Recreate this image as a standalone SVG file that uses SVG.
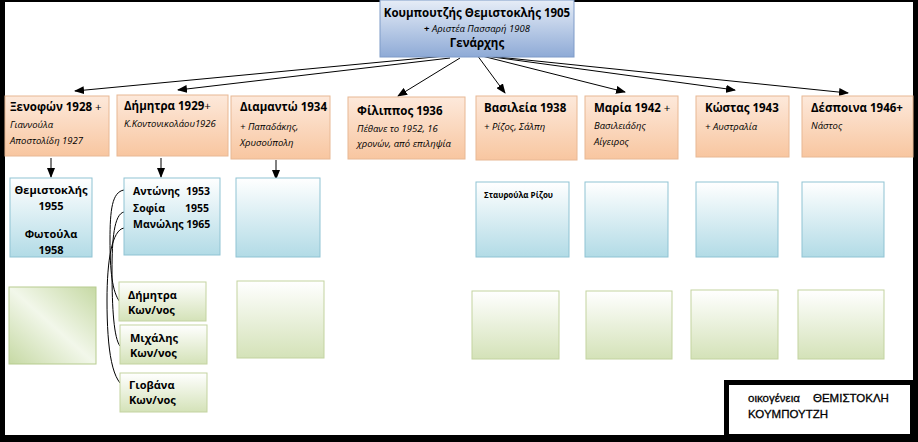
<svg xmlns="http://www.w3.org/2000/svg" width="918" height="442" viewBox="0 0 918 442">
<defs>
<linearGradient id="gr" x1="0" y1="0" x2="0" y2="1"><stop offset="0" stop-color="#e6edf7"/><stop offset="1" stop-color="#8eaad6"/></linearGradient>
<linearGradient id="go" x1="0" y1="0" x2="0" y2="1"><stop offset="0" stop-color="#fde9db"/><stop offset="1" stop-color="#f8c6a0"/></linearGradient>
<linearGradient id="gb" x1="0" y1="0" x2="0" y2="1"><stop offset="0" stop-color="#ffffff"/><stop offset="1" stop-color="#b2dbe6"/></linearGradient>
<linearGradient id="gg" x1="0" y1="0" x2="0" y2="1"><stop offset="0" stop-color="#ffffff"/><stop offset="1" stop-color="#d4e2b8"/></linearGradient>
<linearGradient id="gg2" x1="0" y1="1" x2="1" y2="0"><stop offset="0" stop-color="#c6d9a4"/><stop offset="0.5" stop-color="#f2f7ea"/><stop offset="1" stop-color="#c6d9a4"/></linearGradient>
<marker id="ah" markerWidth="10" markerHeight="8" refX="9" refY="4" orient="auto" markerUnits="userSpaceOnUse"><path d="M0,0 L10,4 L0,8 Z" fill="#000"/></marker>
</defs>
<style>
text{font-family:"Open Sans","Liberation Sans",sans-serif;fill:#000}
.b{font-weight:bold;font-size:11.500px}
.s{font-weight:bold;font-size:11px}
.k{font-weight:bold;font-size:10.500px}
.i{font-style:italic;font-size:9.500px}
.o{fill:url(#go);stroke:#e8b894;stroke-width:1}
.bl{fill:url(#gb);stroke:#8fc3d3;stroke-width:1}
.g{fill:url(#gg);stroke:#c3d3a0;stroke-width:1}
.c{fill:none;stroke:#000;stroke-width:1}
.lg{font-family:"Liberation Sans",Arial,sans-serif;font-size:11.500px;stroke:#000;stroke-width:0.3}
</style>
<rect x="0" y="0" width="918" height="442" fill="#fff"/>
<g id="frame" fill="#000">
<rect x="0" y="0" width="5" height="442"/><rect x="913" y="0" width="5" height="442"/>
<rect x="0" y="0" width="918" height="2"/><rect x="0" y="435" width="918" height="7"/>
</g>
<g id="connectors" class="c">
<line x1="445" y1="56" x2="75" y2="91" marker-end="url(#ah)"/>
<line x1="450" y1="58" x2="178" y2="90" marker-end="url(#ah)"/>
<line x1="460" y1="58" x2="398" y2="96" marker-end="url(#ah)"/>
<line x1="477" y1="55" x2="505" y2="93" marker-end="url(#ah)"/>
<line x1="478" y1="55" x2="625" y2="92" marker-end="url(#ah)"/>
<line x1="478" y1="55" x2="735" y2="90" marker-end="url(#ah)"/>
<line x1="478" y1="55" x2="848" y2="93" marker-end="url(#ah)"/>
<line x1="51" y1="158" x2="51" y2="177" marker-end="url(#ah)"/>
<line x1="161" y1="158" x2="161" y2="177" marker-end="url(#ah)"/>
<line x1="276" y1="160" x2="276" y2="179" marker-end="url(#ah)"/>
<path d="M124,190 C112,192 110,210 110,240 C110,270 112,292 120,302"/>
<path d="M124,212 C114,214 112,240 112,270 C112,310 114,338 120,346"/>
<path d="M124,228 C112,230 107,260 107,300 C107,350 112,385 128,388"/>
</g>
<g id="root"><rect x="380" y="0" width="194" height="57" fill="url(#gr)" stroke="#7f9bc8"/>
<text x="477" y="17" class="b" text-anchor="middle">Κουμπουτζής Θεμιστοκλής 1905</text>
<text x="477" y="32" class="i" text-anchor="middle"><tspan font-weight="bold" font-style="normal">+</tspan> Αριστέα Πασσαρή 1908</text>
<text x="477" y="47" class="b" text-anchor="middle">Γενάρχης</text></g>
<g id="n1"><rect x="5" y="96" width="104" height="60" class="o"/><text x="10" y="111" class="b">Ξενοφών 1928 <tspan font-weight="normal">+</tspan></text><text x="10" y="128" class="i">Γιαννούλα</text><text x="10" y="144" class="i">Αποστολίδη 1927</text></g>
<g id="n2"><rect x="117" y="95" width="111" height="61" class="o"/><text x="124" y="110" class="b">Δήμητρα 1929<tspan font-weight="normal">+</tspan></text><text x="124" y="127" class="i">Κ.Κοντονικολάου1926</text></g>
<g id="n3"><rect x="231" y="96" width="99" height="63" class="o"/><text x="240" y="111" class="b">Διαμαντώ 1934</text><text x="240" y="130" class="i">+ Παπαδάκης,</text><text x="240" y="146" class="i">Χρυσούπολη</text></g>
<g id="n4"><rect x="348" y="97" width="117" height="62" class="o"/><text x="357" y="115" class="b">Φίλιππος 1936</text><text x="357" y="132" class="i">Πέθανε το 1952, 16</text><text x="357" y="147" class="i">χρονών, από επιληψία</text></g>
<g id="n5"><rect x="476" y="96" width="101" height="64" class="o"/><text x="484" y="112" class="b">Βασιλεία 1938</text><text x="484" y="130" class="i">+ Ρίζος, Σάλπη</text></g>
<g id="n6"><rect x="585" y="96" width="93" height="63" class="o"/><text x="594" y="112" class="b">Μαρία 1942 <tspan font-weight="normal">+</tspan></text><text x="594" y="129" class="i">Βασιλειάδης</text><text x="594" y="145" class="i">Αίγειρος</text></g>
<g id="n7"><rect x="696" y="96" width="93" height="61" class="o"/><text x="705" y="112" class="b">Κώστας 1943</text><text x="705" y="130" class="i">+ Αυστραλία</text></g>
<g id="n8"><rect x="802" y="96" width="111" height="61" class="o"/><text x="811" y="112" class="b">Δέσποινα 1946+</text><text x="811" y="129" class="i">Νάστος</text></g>
<g id="c1"><rect x="10" y="178" width="82" height="79" class="bl"/><text x="51" y="194" class="s" text-anchor="middle">Θεμιστοκλής</text><text x="51" y="210" class="s" text-anchor="middle">1955</text><text x="51" y="238" class="s" text-anchor="middle">Φωτούλα</text><text x="51" y="254" class="s" text-anchor="middle">1958</text></g>
<g id="c2"><rect x="124" y="178" width="96" height="77" class="bl"/><text x="133" y="195" class="k">Αντώνης</text><text x="210" y="195" class="k" text-anchor="end">1953</text><text x="133" y="212" class="k">Σοφία</text><text x="209" y="212" class="k" text-anchor="end">1955</text><text x="133" y="228" class="k">Μανώλης 1965</text></g>
<g id="c3"><rect x="236" y="178" width="84" height="79" class="bl"/></g>
<g id="c5"><rect x="476" y="182" width="93" height="75" class="bl"/><text x="484" y="198" font-size="8" font-weight="bold">Σταυρούλα Ρίζου</text></g>
<g id="c6"><rect x="585" y="182" width="83" height="75" class="bl"/></g>
<g id="c7"><rect x="696" y="182" width="82" height="75" class="bl"/></g>
<g id="c8"><rect x="802" y="182" width="82" height="75" class="bl"/></g>
<g id="g1"><rect x="9" y="287" width="87" height="77" fill="url(#gg2)" stroke="#b7cc8f"/></g>
<g id="g2a"><rect x="119" y="282" width="87" height="39" class="g"/><text x="128" y="299" class="s">Δήμητρα</text><text x="128" y="314" class="s">Κων/νος</text></g>
<g id="g2b"><rect x="120" y="325" width="87" height="39" class="g"/><text x="130" y="342" class="s">Μιχάλης</text><text x="130" y="357" class="s">Κων/νος</text></g>
<g id="g2c"><rect x="120" y="373" width="87" height="39" class="g"/><text x="129" y="389" class="s">Γιοβάνα</text><text x="129" y="404" class="s">Κων/νος</text></g>
<g id="g3"><rect x="237" y="281" width="87" height="77" class="g"/></g>
<g id="g5"><rect x="472" y="291" width="87" height="68" class="g"/></g>
<g id="g6"><rect x="586" y="291" width="86" height="68" class="g"/></g>
<g id="g7"><rect x="691" y="290" width="87" height="69" class="g"/></g>
<g id="g8"><rect x="798" y="290" width="86" height="69" class="g"/></g>
<g id="legend"><rect x="726.500" y="382.500" width="186" height="54" fill="#fff" stroke="#000" stroke-width="5"/>
<text x="748" y="402" class="lg">οικογένεια<tspan x="813">ΘΕΜΙΣΤΟΚΛΗ</tspan></text>
<text x="748" y="418" class="lg">ΚΟΥΜΠΟΥΤΖΗ</text></g>
</svg>
